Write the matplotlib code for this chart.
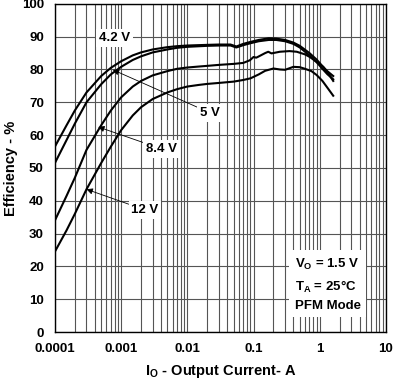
import numpy as np
import matplotlib
matplotlib.use('Agg')
import matplotlib.pyplot as plt

plt.rcParams['font.family'] = ['Liberation Sans', 'DejaVu Sans']
plt.rcParams['font.weight'] = 'bold'
plt.rcParams['mathtext.fontset'] = 'custom'
plt.rcParams['mathtext.rm'] = 'Liberation Sans:bold'
plt.rcParams['mathtext.bf'] = 'Liberation Sans:bold'

# output current (A) and efficiency (%) for each input voltage
i_42 = [0.0001, 0.00015, 0.0002, 0.0003, 0.0005, 0.0007, 0.001, 0.0015, 0.002, 0.003, 0.005, 0.007,
        0.01, 0.02, 0.03, 0.045, 0.055, 0.07, 0.09, 0.12, 0.17, 0.22, 0.3, 0.4, 0.5, 0.7, 0.9, 1.1, 1.3, 1.6]
eff_42 = [56.5, 63, 67.5, 73, 78, 80.5, 82.5, 84.3, 85.2, 86.1, 86.8, 87.1,
          87.3, 87.5, 87.6, 87.6, 87.0, 87.8, 88.4, 89.0, 89.5, 89.4, 89.0, 88.2, 87.2, 85.0, 83.0, 81.0, 79.5, 78.0]

i_5 = [0.0001, 0.00015, 0.0002, 0.0003, 0.0005, 0.0007, 0.001, 0.0015, 0.002, 0.003, 0.005, 0.007,
       0.01, 0.02, 0.03, 0.045, 0.055, 0.07, 0.09, 0.12, 0.17, 0.22, 0.3, 0.4, 0.5, 0.7, 0.9, 1.1, 1.3, 1.6]
eff_5 = [51.5, 58.5, 63.5, 70, 75.5, 78.5, 80.8, 82.9, 84.0, 85.2, 86.1, 86.6,
         86.9, 87.2, 87.3, 87.3, 86.7, 87.4, 88.0, 88.6, 89.0, 89.0, 88.6, 87.8, 86.7, 84.3, 82.2, 80.2, 78.6, 77.0]

i_84 = [0.0001, 0.00015, 0.0002, 0.0003, 0.0005, 0.0007, 0.001, 0.0015, 0.002, 0.003, 0.005, 0.007,
        0.01, 0.015, 0.02, 0.03, 0.05, 0.07, 0.088, 0.1, 0.11, 0.118, 0.15, 0.167, 0.187, 0.25, 0.35, 0.45,
        0.6, 0.71, 0.9, 1.13, 1.35, 1.6]
eff_84 = [34, 41.5, 47, 55.5, 63, 67.5, 71.5, 74.8, 76.5, 78.2, 79.5, 80.2,
          80.6, 80.9, 81.1, 81.4, 81.7, 82.0, 82.8, 83.8, 83.6, 83.9, 85.0, 85.4, 84.9, 85.4, 85.6, 85.4,
          84.6, 83.8, 82.3, 80.8, 78.8, 76.5]

i_12 = [0.0001, 0.00015, 0.0002, 0.0003, 0.0005, 0.0007, 0.001, 0.0015, 0.002, 0.003, 0.005, 0.007,
        0.01, 0.015, 0.02, 0.03, 0.05, 0.07, 0.09, 0.12, 0.15, 0.2, 0.25, 0.3, 0.4, 0.5, 0.6, 0.75,
        0.9, 1.1, 1.3, 1.6]
eff_12 = [24.5, 31, 36, 43.5, 51.5, 56.5, 61.5, 66, 68.5, 71, 73, 74.0,
          74.8, 75.3, 75.6, 75.9, 76.3, 76.8, 77.3, 78.5, 79.6, 80.3, 80.0, 79.9, 80.8, 80.7, 80.2, 79.5,
          78.3, 76.5, 74.5, 72.0]

fig = plt.figure(figsize=(3.95, 3.83), dpi=100)
ax = fig.add_axes([0.139, 0.133, 0.838, 0.857])

for xs, ys in [(i_42, eff_42), (i_5, eff_5), (i_84, eff_84), (i_12, eff_12)]:
    ax.plot(xs, ys, color='black', lw=1.5, zorder=3)

ax.set_xscale('log')
ax.set_xlim(0.0001, 10)
ax.set_ylim(0, 100)
ax.set_yticks(np.arange(0, 101, 10))
ax.set_xticks([0.0001, 0.001, 0.01, 0.1, 1, 10])
ax.set_xticklabels(['0.0001', '0.001', '0.01', '0.1', '1', '10'])
ax.grid(which='both', color='#555555', lw=0.8)
ax.tick_params(which='both', length=0, labelsize=9.5, pad=8)
for s in ax.spines.values():
    s.set_linewidth(1.0)

ax.set_xlabel('I$_\\mathregular{O}$ - Output Current- A', fontsize=10.5, fontweight='bold')
ax.set_ylabel('Efficiency - %', fontsize=10.5, fontweight='bold')
ax.xaxis.set_label_coords(0.5, -0.095)
ax.yaxis.set_label_coords(-0.11, 0.5)

box = dict(facecolor='white', edgecolor='none', pad=2)
arr = dict(arrowstyle='-|>', color='black', lw=0.6, mutation_scale=9, shrinkA=0, shrinkB=0)
ax.text(0.0008, 89.6, '4.2 V', fontsize=9.5, ha='center', va='center', bbox=box, zorder=4)
ax.annotate('5 V', xy=(0.00075, 79.9), xytext=(0.022, 66.8), fontsize=9.5,
            ha='center', va='center', bbox=box, arrowprops=arr, zorder=4)
ax.annotate('8.4 V', xy=(0.00045, 62.5), xytext=(0.0041, 55.8), fontsize=9.5,
            ha='center', va='center', bbox=box, arrowprops=arr, zorder=4)
ax.annotate('12 V', xy=(0.0003, 43.5), xytext=(0.0023, 37.2), fontsize=9.5,
            ha='center', va='center', bbox=box, arrowprops=arr, zorder=4)

ax.text(0.42, 14.5, 'V$_\\mathregular{O}$ = 1.5 V\nT$_\\mathregular{A}$ = 25°C\nPFM Mode',
        fontsize=9.5, ha='left', va='center', linespacing=1.55,
        bbox=dict(facecolor='white', edgecolor='none', pad=4), zorder=4)

fig.savefig('out.png', dpi=100)
